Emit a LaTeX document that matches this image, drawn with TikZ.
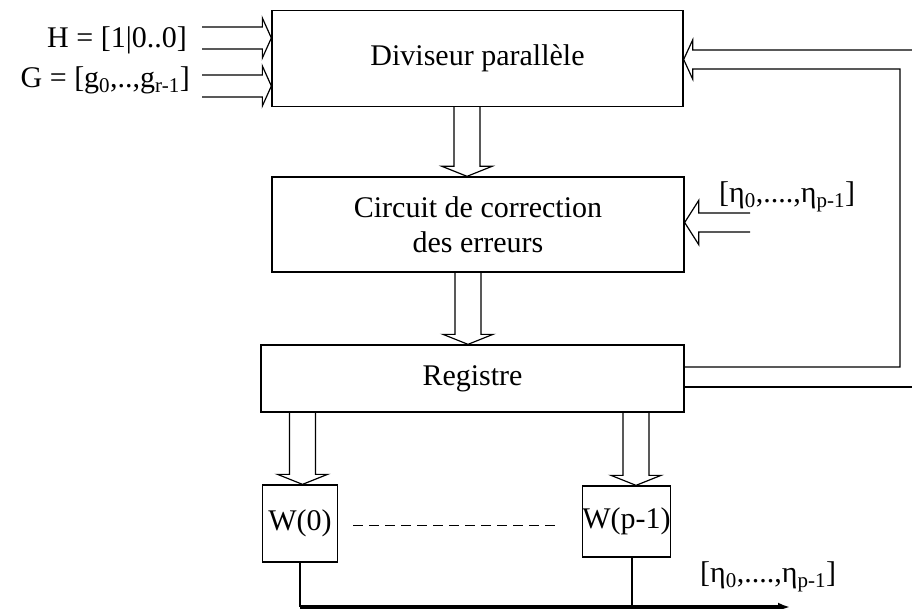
\documentclass[tikz,border=0pt]{standalone}
\usepackage{fontspec}
\setmainfont{Liberation Serif}
\usetikzlibrary{arrows.meta,calc,positioning}

\tikzset{
  dcnode/.style={draw, line width=1.3pt, inner sep=0pt, align=center,
    font=\fontsize{30}{35}\selectfont},
  dcbox/.style={dcnode, minimum width=411pt, minimum height=96pt},
  membox/.style={dcnode, minimum width=75pt, minimum height=74pt},
  lbl/.style={inner sep=0pt, font=\fontsize{30}{35}\selectfont},
  bus/.style={line width=1.2pt, line join=miter},
  wire/.style={line width=1.2pt},
  busline/.style={line width=3.2pt, -{Latex[length=12pt,width=9pt]}},
  dotted link/.style={line width=0.8pt, dash pattern=on 10pt off 6pt}
}

% hollow bus arrow going down: source, target, shift of the tip
\newcommand{\hollowdown}[3]{%
  \coordinate (tip) at ($(#2.north)+(#3,0)$);
  \coordinate (top) at (#1.south -| tip);
  \draw[bus] ($(top)+(-13,0)$) -- ($(tip)+(-13,-10)$) -- ($(tip)+(-25,-10)$)
    -- (tip) -- ($(tip)+(25,-10)$) -- ($(tip)+(13,-10)$) -- ($(top)+(13,0)$);
}
% hollow bus arrow going right: start coordinate, target
\newcommand{\hollowright}[2]{%
  \coordinate (tip) at (#2.west |- #1);
  \draw[bus] ($(#1)+(0,-11)$) -- ($(tip)+(-9,-11)$) -- ($(tip)+(-9,-20)$)
    -- (tip) -- ($(tip)+(-9,20)$) -- ($(tip)+(-9,11)$) -- ($(#1)+(0,11)$);
}

\begin{document}
\begin{tikzpicture}[x=1pt, y=-1pt]
  \useasboundingbox (0,0) rectangle (912,609);

  % blocks
  \node[dcbox] (div) at (477.5,58.5) {Diviseur parallèle};
  \node[dcbox, minimum width=412pt, minimum height=95pt] (corr) at (478,224.5)
    {Circuit de correction\\des erreurs};
  \node[dcbox, minimum width=423pt, minimum height=67pt] (reg) at (472.5,378.5) {Registre};
  \node[membox, minimum height=77pt] (w0) at (300,523.5) {W(0)};
  \node[membox, minimum width=77pt, minimum height=71pt] (wp) at (626.5,521.5) {W(p-1)};

  % inputs
  \node[lbl, anchor=east] (hlbl) at (187,40) {H = [1|0..0]};
  \node[lbl, anchor=east] (glbl) at (190,80)
    {G = [g\textsubscript{0},..,g\textsubscript{r-1}]};
  \coordinate (hin) at (202,38);
  \coordinate (gin) at (202,86);
  \hollowright{hin}{div}
  \hollowright{gin}{div}

  % data path
  \hollowdown{div}{corr}{-11}
  \hollowdown{corr}{reg}{-4.5}
  \hollowdown{reg}{w0}{2.5}
  \hollowdown{reg}{wp}{9.5}

  % syndrome input
  \node[lbl, anchor=west] (etalbl) at (719,197)
    {[η\textsubscript{0},....,η\textsubscript{p-1}]};
  \coordinate (etain) at (750,222.5);
  \coordinate (etatip) at (corr.east |- etain);
  \draw[bus] ($(etain)+(0,-9.5)$) -- ($(etatip)+(14,-9.5)$) -- ($(etatip)+(14,-22)$)
    -- (etatip) -- ($(etatip)+(14,22)$) -- ($(etatip)+(14,9.5)$) -- ($(etain)+(0,9.5)$);

  % feedback
  \coordinate (fbtip) at (div.east |- 0,59.5);
  \coordinate (fbedge) at (912,0);
  \draw[bus] (reg.east |- 0,367) -- (900,367) -- (900,69) -- ($(fbtip)+(9,9.5)$)
    -- ($(fbtip)+(9,19.5)$) -- (fbtip) -- ($(fbtip)+(9,-19.5)$) -- ($(fbtip)+(9,-9.5)$)
    -- (fbedge |- 0,50);
  \draw[bus] (reg.east |- 0,387) -- (fbedge |- 0,387);

  % memories and output
  \draw[dotted link] ($(w0.east)+(15,1.5)$) -- ($(wp.west)+(-26,3.5)$);
  \coordinate (busend) at (790,607);
  \coordinate (wpout) at ($(wp.south)+(5.5,0)$);
  \draw[wire] (w0.south) -- (w0.south |- busend);
  \draw[wire] (wpout) -- (wpout |- busend);
  \draw[busline] (w0.south |- busend) -- (busend);
  \node[lbl, anchor=west] (outlbl) at (700,577)
    {[η\textsubscript{0},....,η\textsubscript{p-1}]};
\end{tikzpicture}
\end{document}
